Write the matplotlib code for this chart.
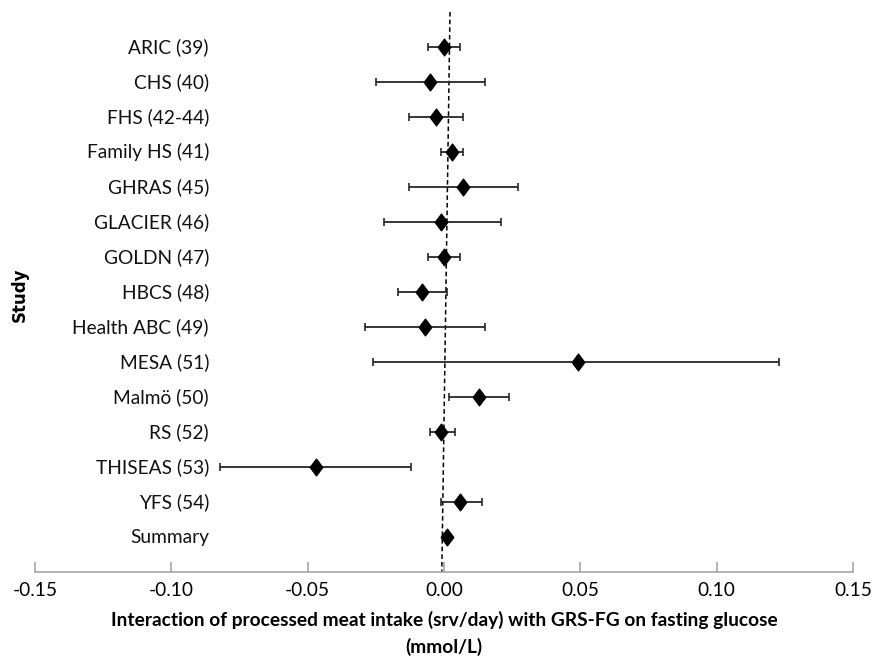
import matplotlib
matplotlib.use("Agg")
import matplotlib.pyplot as plt
import matplotlib.transforms as mtransforms
from matplotlib.path import Path

# study estimates with confidence limits
studies = ["ARIC (39)", "CHS (40)", "FHS (42-44)", "Family HS (41)", "GHRAS (45)",
           "GLACIER (46)", "GOLDN (47)", "HBCS (48)", "Health ABC (49)", "MESA (51)",
           "Malmö (50)", "RS (52)", "THISEAS (53)", "YFS (54)", "Summary"]
estimate = [0.000, -0.005, -0.003, 0.003, 0.007, -0.001, 0.000, -0.008, -0.007, 0.049,
            0.013, -0.001, -0.047, 0.006, 0.001]
lower = [-0.006, -0.025, -0.013, -0.001, -0.013, -0.022, -0.006, -0.017, -0.029, -0.026,
         0.002, -0.005, -0.082, -0.001, 0.000]
upper = [0.006, 0.015, 0.007, 0.007, 0.027, 0.021, 0.006, 0.001, 0.015, 0.123,
         0.024, 0.004, -0.012, 0.014, 0.002]
xticks = [-0.15, -0.10, -0.05, 0.00, 0.05, 0.10, 0.15]

font = ["Lato", "DejaVu Sans"]
fs = 13.8

W, H = 873, 665
fig = plt.figure(figsize=(W / 100, H / 100), dpi=100)
ax = fig.add_axes([35 / W, 1 - 572 / H, (853 - 35) / W, (572 - 12) / H])

n = len(studies)
ypos = list(range(n, 0, -1))
xerr = [[e - lo for e, lo in zip(estimate, lower)],
        [hi - e for e, hi in zip(estimate, upper)]]

diamond = Path([(0, 1), (0.75, 0), (0, -1), (-0.75, 0), (0, 1)],
               [Path.MOVETO, Path.LINETO, Path.LINETO, Path.LINETO, Path.CLOSEPOLY])

# reference line
ax.plot([0.0022, -0.0008], [n + 1, 0], color="black", lw=1.1, ls=(0, (3, 2)), zorder=1)

ax.errorbar(estimate, ypos, xerr=xerr, fmt="none", ecolor="#262626",
            elinewidth=1.3, capsize=3.2, capthick=1.2, zorder=2)
ax.plot(estimate, ypos, ls="none", marker=diamond, markersize=12,
        color="black", zorder=3)

ax.set_xlim(-0.15, 0.15)
ax.set_ylim(0, n + 1)

trans = mtransforms.blended_transform_factory(ax.transAxes, ax.transData)
for name, y in zip(studies, ypos):
    ax.text((209 - 35) / (853 - 35), y, name, transform=trans, ha="right",
            va="center", fontsize=fs, family=font, color="#111111")

for side in ["top", "right", "left"]:
    ax.spines[side].set_visible(False)
ax.spines["bottom"].set_color("#a6a6a6")
ax.spines["bottom"].set_linewidth(1.2)
ax.set_yticks([])
ax.set_xticks(xticks)
ax.set_xticklabels([f"{t:.2f}" for t in xticks], family=font, fontsize=fs)
ax.tick_params(axis="x", direction="in", length=7, width=1.2, color="#a6a6a6",
               pad=7)

ax.set_xlabel("Interaction of processed meat intake (srv/day) with GRS-FG on fasting glucose\n(mmol/L)",
              family=font, fontsize=fs, fontweight="bold", labelpad=9, linespacing=1.55)
fig.text(20 / W, 1 - 295 / H, "Study", rotation=90, ha="center", va="center",
         fontsize=12, fontweight="bold", family=["DejaVu Sans"])

fig.savefig("out.png", dpi=100)
